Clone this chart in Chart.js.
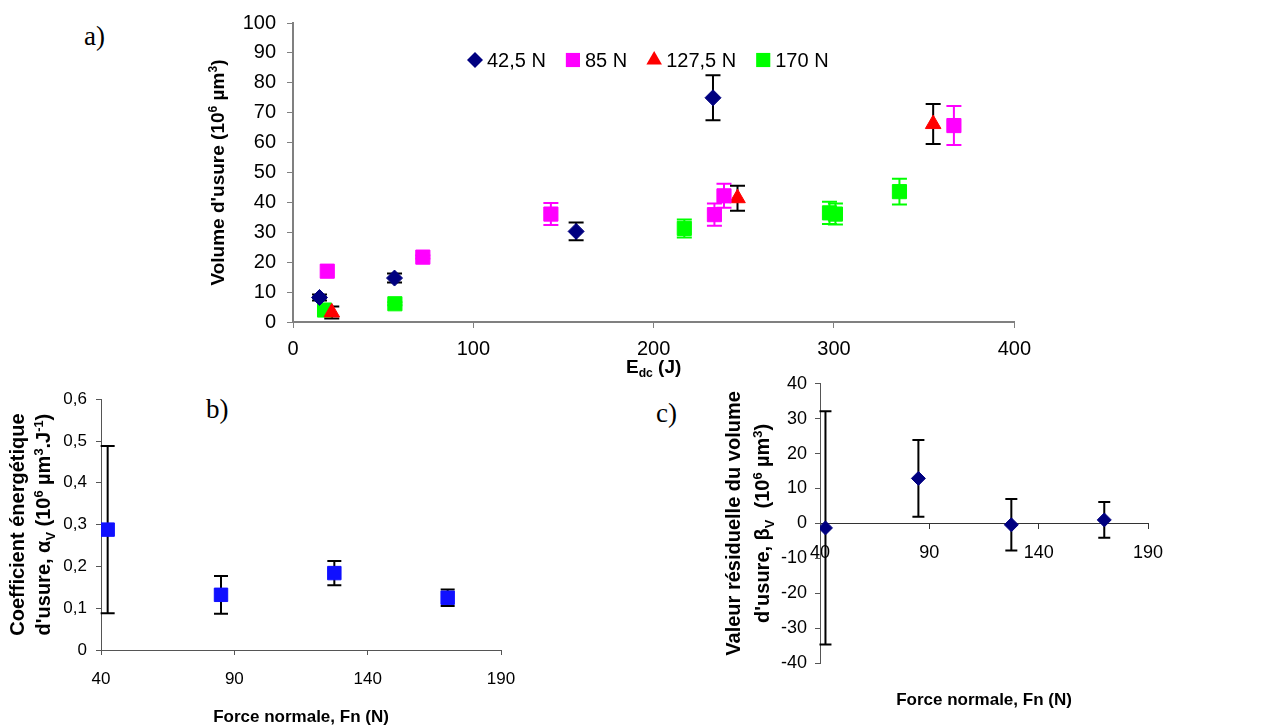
<!DOCTYPE html>
<html lang="fr">
<head>
    <meta charset="UTF-8">
    <title>Volume d'usure</title>
    <style>
        body { margin: 0; width: 1279px; height: 725px; background: #fff; position: relative; overflow: hidden; }
        .box { position: absolute; }
        .lbl { position: absolute; font-family: "Liberation Serif", "Times New Roman", serif; font-size: 27px; line-height: 1; color: #000; }
    </style>
</head>
<body>

    <div class="lbl" style="left:84px;top:23px">a)</div>
    <div class="lbl" style="left:206px;top:396px">b)</div>
    <div class="lbl" style="left:656px;top:400px">c)</div>

    <div class="box" style="left:190px;top:0;width:850px;height:380px"><canvas id="chartA"></canvas></div>
    <div class="box" style="left:0;top:380px;width:640px;height:345px"><canvas id="chartB"></canvas></div>
    <div class="box" style="left:640px;top:365px;width:639px;height:360px"><canvas id="chartC"></canvas></div>

    <script src="https://cdn.jsdelivr.net/npm/chart.js"></script>
    <script>
        // a) volume d'usure en fonction de Edc
        const labelsA = ['42,5 N', '85 N', '127,5 N', '170 N'];
        const x42 = [14.7, 56.3, 157, 232.9];
        const y42 = [8.2, 14.7, 30.3, 75];
        const e42 = [1, 1.5, 3, 7.5];
        const x85 = [19, 72, 143, 233.7, 239, 366.5];
        const y85 = [17, 21.7, 36.1, 35.9, 42.2, 65.7];
        const e85 = [0, 0.5, 3.7, 3.7, 4, 6.5];
        const x127 = [21.5, 246.5, 355];
        const y127 = [3.2, 41.4, 66.2];
        const e127 = [2, 4.2, 6.7];
        const x170 = [17.5, 56.5, 217, 297.5, 300.8, 336.3];
        const y170 = [4, 6.1, 31.3, 36.5, 36.1, 43.6];
        const e170 = [1, 0.5, 3, 3.7, 3.5, 4.3];

        // b) et c) en fonction de la force normale
        const forces = [42.5, 85, 127.5, 170];
        const alphaV = [0.288, 0.132, 0.184, 0.125];
        const alphaErr = [0.2, 0.045, 0.029, 0.02];
        const betaV = [-1.3, 12.9, -0.4, 1.0];
        const betaErr = [33.4, 11, 7.4, 5.1];

        const fam = '"Liberation Sans", Arial, sans-serif';
        Chart.defaults.font.family = fam;
        Chart.defaults.color = '#000';

        const pts = (xs, ys) => xs.map((x, i) => ({ x: x, y: ys[i] }));

        // texte avec exposants / indices
        function drawRich(ctx, parts, x, y, size, rot) {
            const fontOf = p => 'bold ' + (p[1] ? size * 0.64 : size) + 'px ' + fam;
            let w = 0;
            parts.forEach(p => { ctx.font = fontOf(p); w += ctx.measureText(p[0]).width; });
            ctx.save();
            ctx.translate(x, y);
            ctx.rotate(rot || 0);
            ctx.fillStyle = '#000';
            ctx.textAlign = 'left';
            ctx.textBaseline = 'alphabetic';
            let cx = -w / 2;
            parts.forEach(p => {
                ctx.font = fontOf(p);
                const dy = p[1] === 'sup' ? -size * 0.38 : p[1] === 'sub' ? size * 0.22 : 0;
                ctx.fillText(p[0], cx, size * 0.36 + dy);
                cx += ctx.measureText(p[0]).width;
            });
            ctx.restore();
        }

        const richText = {
            id: 'richText',
            afterDraw(chart, args, opts) {
                const a = chart.chartArea;
                (opts.items || []).forEach(it => {
                    const p = it.at(a);
                    drawRich(chart.ctx, it.parts, p.x, p.y, it.size, it.rot);
                });
            }
        };

        const errorBars = {
            id: 'errorBars',
            beforeDatasetsDraw(chart, args, opts) {
                const ctx = chart.ctx, ys = chart.scales.y;
                const cap = opts.cap || 7;
                chart.data.datasets.forEach((ds, i) => {
                    if (!ds.errors) return;
                    const meta = chart.getDatasetMeta(i);
                    ctx.save();
                    ctx.strokeStyle = ds.errorColor;
                    ctx.lineWidth = 2;
                    meta.data.forEach((pt, j) => {
                        const e = ds.errors[j];
                        if (!e) return;
                        const v = ds.data[j].y;
                        const top = ys.getPixelForValue(v + e), bot = ys.getPixelForValue(v - e);
                        ctx.beginPath();
                        ctx.moveTo(pt.x, top); ctx.lineTo(pt.x, bot);
                        ctx.moveTo(pt.x - cap, top); ctx.lineTo(pt.x + cap, top);
                        ctx.moveTo(pt.x - cap, bot); ctx.lineTo(pt.x + cap, bot);
                        ctx.stroke();
                    });
                    ctx.restore();
                });
            }
        };

        const pointLegend = {
            id: 'pointLegend',
            afterDraw(chart, args, opts) {
                if (!opts.show) return;
                const ctx = chart.ctx, a = chart.chartArea;
                let x = a.left + opts.dx;
                const y = a.top + opts.dy;
                ctx.save();
                ctx.font = opts.size + 'px ' + fam;
                ctx.textBaseline = 'middle';
                chart.data.datasets.forEach(ds => {
                    ctx.fillStyle = ds.backgroundColor;
                    ctx.strokeStyle = ds.backgroundColor;
                    Chart.helpers.drawPoint(ctx, { pointStyle: ds.pointStyle, radius: ds.pointRadius, rotation: 0, borderWidth: 0 }, x, y);
                    ctx.fillStyle = '#000';
                    ctx.fillText(ds.label, x + 12, y + 1);
                    x += 12 + ctx.measureText(ds.label).width + 27;
                });
                ctx.restore();
            }
        };

        function axis(min, max, step, o) {
            return {
                type: 'linear',
                position: o.position,
                min: min, max: max,
                ticks: {
                    stepSize: step, color: '#000', padding: o.pad, maxRotation: 0,
                    font: { size: o.size },
                    callback: o.fmt || (v => String(v))
                },
                grid: { drawOnChartArea: false, drawTicks: true, tickLength: o.tick, color: o.color },
                border: { color: o.color, width: o.lw },
                afterFit: o.fit
            };
        }

        function serie(label, xs, ys, errs, color, style, radius, errColor) {
            return {
                label: label, data: pts(xs, ys), errors: errs, errorColor: errColor,
                backgroundColor: color, borderColor: color,
                pointStyle: style, pointRadius: radius, pointHoverRadius: radius,
                pointBorderWidth: 1, showLine: false
            };
        }

        const base = {
            animation: false, responsive: true, maintainAspectRatio: false,
            events: []
        };

        // ---------- a) ----------
        new Chart(document.getElementById('chartA'), {
            type: 'scatter',
            data: {
                datasets: [
                    serie(labelsA[0], x42, y42, e42, '#000080', 'rectRot', 8, '#000'),
                    serie(labelsA[1], x85, y85, e85, '#ff00ff', 'rect', 10, '#ff00ff'),
                    serie(labelsA[2], x127, y127, e127, '#ff0000', 'triangle', 9, '#000'),
                    serie(labelsA[3], x170, y170, e170, '#00ff00', 'rect', 10, '#00ff00')
                ]
            },
            options: Object.assign({}, base, {
                layout: { padding: { left: 0, top: 21, right: 22, bottom: 0 } },
                scales: {
                    x: axis(0, 400, 100, { size: 20, pad: 9, tick: 6, color: '#808080', lw: 2, fit: s => { s.height = 58; } }),
                    y: axis(0, 100, 10, { size: 20, pad: 11, tick: 6, color: '#808080', lw: 2, fit: s => { s.width = 103; } })
                },
                plugins: {
                    legend: { display: false },
                    tooltip: { enabled: false },
                    errorBars: { cap: 7.5 },
                    pointLegend: { show: true, dx: 182, dy: 37, size: 20 },
                    richText: {
                        items: [
                            { parts: [["Volume d'usure (10"], ['6', 'sup'], [' µm'], ['3', 'sup'], [')']], size: 19, rot: -Math.PI / 2,
                              at: a => ({ x: 27, y: (a.top + a.bottom) / 2 }) },
                            { parts: [['E'], ['dc', 'sub'], [' (J)']], size: 19, rot: 0,
                              at: a => ({ x: (a.left + a.right) / 2, y: a.bottom + 44 }) }
                        ]
                    }
                }
            }),
            plugins: [errorBars, pointLegend, richText]
        });

        // ---------- b) ----------
        new Chart(document.getElementById('chartB'), {
            type: 'scatter',
            data: {
                datasets: [serie('alpha', forces, alphaV, alphaErr, '#1010ff', 'rect', 9.5, '#000')]
            },
            options: Object.assign({}, base, {
                layout: { padding: { left: 0, top: 18, right: 139, bottom: 0 } },
                scales: {
                    x: axis(40, 190, 50, { size: 17, pad: 14, tick: 5, color: '#555', lw: 1, fit: s => { s.height = 75; } }),
                    y: axis(0, 0.6, 0.1, { size: 17, pad: 9, tick: 5, color: '#555', lw: 1, fit: s => { s.width = 101; },
                        fmt: v => v === 0 ? '0' : v.toFixed(1).replace('.', ',') })
                },
                plugins: {
                    legend: { display: false },
                    tooltip: { enabled: false },
                    errorBars: { cap: 7 },
                    richText: {
                        items: [
                            { parts: [['Coefficient énergétique']], size: 20, rot: -Math.PI / 2,
                              at: a => ({ x: 17, y: (a.top + a.bottom) / 2 }) },
                            { parts: [["d'usure, α"], ['V', 'sub'], [' (10'], ['6', 'sup'], [' µm'], ['3', 'sup'], ['.J'], ['-1', 'sup'], [')']], size: 20, rot: -Math.PI / 2,
                              at: a => ({ x: 43, y: (a.top + a.bottom) / 2 }) },
                            { parts: [['Force normale, Fn (N)']], size: 17, rot: 0,
                              at: a => ({ x: (a.left + a.right) / 2, y: a.bottom + 66 }) }
                        ]
                    }
                }
            }),
            plugins: [errorBars, richText]
        });

        // ---------- c) ----------
        new Chart(document.getElementById('chartC'), {
            type: 'scatter',
            data: {
                datasets: [serie('beta', forces, betaV, betaErr, '#000080', 'rectRot', 7, '#000')]
            },
            options: Object.assign({}, base, {
                layout: { padding: { left: 0, top: 14, right: 131, bottom: 62 } },
                scales: {
                    x: axis(40, 190, 50, { position: { y: 0 }, size: 18, pad: 14, tick: 5, color: '#333', lw: 1 }),
                    y: axis(-40, 40, 10, { position: 'left', size: 18, pad: 8, tick: 5, color: '#555', lw: 1, fit: s => { s.width = 180; } })
                },
                plugins: {
                    legend: { display: false },
                    tooltip: { enabled: false },
                    errorBars: { cap: 6 },
                    richText: {
                        items: [
                            { parts: [['Valeur résiduelle du volume']], size: 20, rot: -Math.PI / 2,
                              at: a => ({ x: 93, y: (a.top + a.bottom) / 2 }) },
                            { parts: [["d'usure, β"], ['V', 'sub'], ['  (10'], ['6', 'sup'], [' µm'], ['3', 'sup'], [')']], size: 20, rot: -Math.PI / 2,
                              at: a => ({ x: 122, y: (a.top + a.bottom) / 2 }) },
                            { parts: [['Force normale, Fn (N)']], size: 17, rot: 0,
                              at: a => ({ x: (a.left + a.right) / 2, y: a.bottom + 36 }) }
                        ]
                    }
                }
            }),
            plugins: [errorBars, richText]
        });
    </script>

</body>
</html>
